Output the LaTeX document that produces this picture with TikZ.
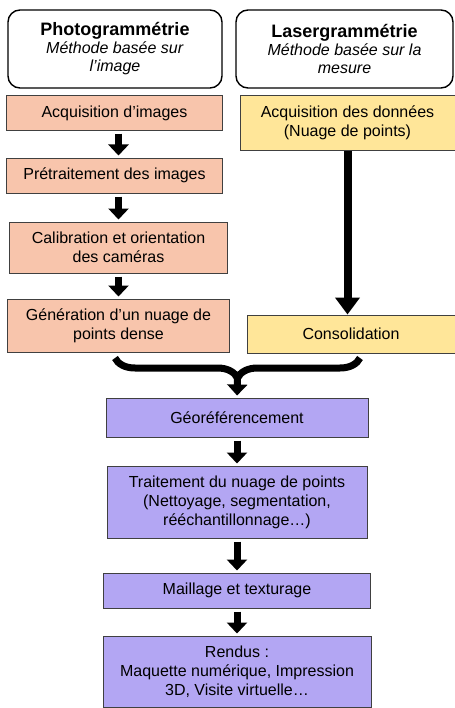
\documentclass[tikz,border=0pt]{standalone}
\usepackage{fontspec}
\setmainfont{Liberation Sans}
\usetikzlibrary{arrows.meta,decorations.pathreplacing}

\definecolor{photofill}{HTML}{F8C5AC}
\definecolor{laserfill}{HTML}{FFE699}
\definecolor{commonfill}{HTML}{B3A6F3}
\definecolor{boxline}{HTML}{404040}

\tikzset{
  titlebox/.style={draw=black, line width=1.4bp, rounded corners=12bp, fill=white,
    align=center, font=\fontsize{16bp}{18bp}\selectfont, inner sep=2bp},
  stepbox/.style={draw=boxline, line width=1bp, align=center, inner sep=2bp,
    font=\fontsize{16bp}{19bp}\selectfont},
  photostep/.style={stepbox, fill=photofill},
  laserstep/.style={stepbox, fill=laserfill},
  commonstep/.style={stepbox, fill=commonfill},
  blockarrow/.style={line width=7bp, -{Triangle[width=20bp,length=11bp]},
    shorten <=3bp, shorten >=2bp},
  longarrow/.style={line width=8bp, -{Triangle[width=24bp,length=17bp]}}
}
\newcommand{\titre}[1]{{\fontsize{18bp}{18bp}\selectfont\bfseries #1}}

\begin{document}
\begin{tikzpicture}[x=1bp, y=-1bp]
\useasboundingbox (0,0) rectangle (455,708);

% En-tetes
\node[titlebox, minimum width=214bp, minimum height=78bp] (photo) at (115,49)
  {\titre{Photogrammétrie}\\\textit{Méthode basée sur}\\\textit{l’image}};
\node[titlebox, minimum width=217bp, minimum height=78bp] (laser) at (344.5,49)
  {\titre{Lasergrammétrie}\\\textit{Méthode basée sur la}\\\textit{mesure}};

% Photogrammetrie
\node[photostep, minimum width=215bp, minimum height=34bp] (acqimg) at (114.5,113) {Acquisition d’images};
\node[photostep, minimum width=215bp, minimum height=35bp] (pretr) at (114.5,175.5) {Prétraitement des images};
\node[photostep, minimum width=217bp, minimum height=51bp] (calib) at (118.5,247.5) {Calibration et orientation\\des caméras};
\node[photostep, minimum width=221bp, minimum height=53bp] (gen) at (118.5,325.5) {Génération d’un nuage de\\points dense};

% Lasergrammetrie
\node[laserstep, minimum width=215bp, minimum height=54bp] (acqdon) at (347.5,123) {Acquisition des données\\(Nuage de points)};
\node[laserstep, minimum width=208bp, minimum height=38bp] (conso) at (351,334) {Consolidation};

% Tronc commun
\node[commonstep, minimum width=262bp, minimum height=39bp] (geo) at (237,417.5) {Géoréférencement};
\node[commonstep, minimum width=260bp, minimum height=72bp] (trait) at (237,502) {Traitement du nuage de points\\(Nettoyage, segmentation,\\rééchantillonnage…)};
\node[commonstep, minimum width=267bp, minimum height=35bp] (maill) at (237,590.5) {Maillage et texturage};
\node[commonstep, minimum width=268bp, minimum height=71bp] (rendus) at (237,671.5) {Rendus :\\Maquette numérique, Impression\\3D, Visite virtuelle…};

% Fleches
\draw[blockarrow] (acqimg.south -| calib) -- (pretr.north -| calib);
\draw[blockarrow] (pretr.south -| calib) -- (calib.north);
\draw[blockarrow] (calib.south) -- (gen.north);
\draw[longarrow] (acqdon.south) -- (acqdon.south |- conso.north);

% Accolade
\coordinate (braceL) at (115,358);
\coordinate (braceR) at (360,358);
\coordinate (braceTip) at (237.5,378);
\draw[decorate, decoration={brace, mirror, amplitude=20bp}, line width=7bp] (braceL) -- (braceR);
\draw[blockarrow, shorten <=0bp] (braceTip) -- (geo.north);

\draw[blockarrow] (geo.south) -- (trait.north);
\draw[blockarrow] (trait.south) -- (maill.north);
\draw[blockarrow] (maill.south) -- (rendus.north);

\end{tikzpicture}
\end{document}
